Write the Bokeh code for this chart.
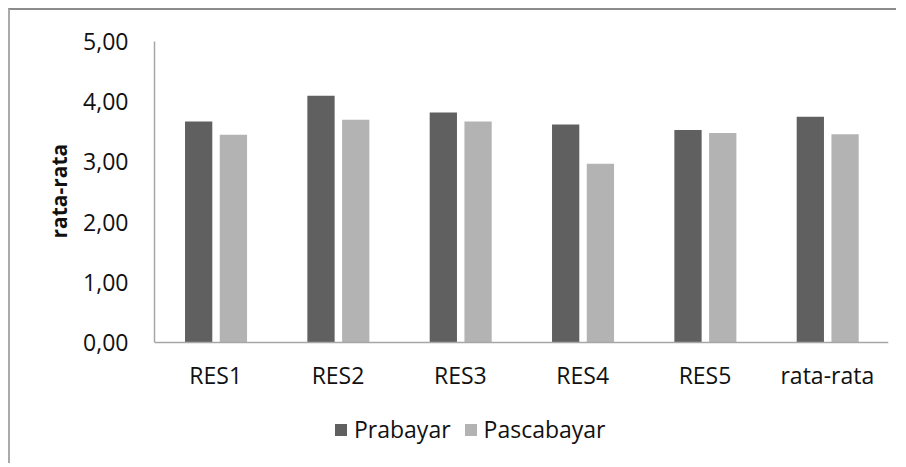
from bokeh.plotting import figure
from bokeh.models import (FactorRange, Range1d, FixedTicker, CustomJSTickFormatter,
                          ColumnDataSource, Legend, LegendItem, Title)
from bokeh.transform import dodge
from bokeh.embed import file_html
from bokeh.resources import INLINE

categories = ["RES1", "RES2", "RES3", "RES4", "RES5", "rata-rata"]
prabayar = [3.67, 4.10, 3.82, 3.62, 3.53, 3.75]
pascabayar = [3.45, 3.70, 3.67, 2.97, 3.48, 3.46]
series_names = ["Prabayar", "Pascabayar"]
y_ticks = [0, 1, 2, 3, 4, 5]
y_title = "rata-rata"

FONT = "Open Sans"
DARK = "#606060"
LIGHT = "#b3b3b3"
AXIS = "#a6a6a6"

src = ColumnDataSource(dict(cat=categories, pra=prabayar, pasca=pascabayar))

p = figure(width=888, height=455, x_range=FactorRange(*categories),
           y_range=Range1d(-1.877, 5), output_backend="svg", toolbar_location=None,
           min_border_left=144, min_border_right=10, min_border_top=31,
           min_border_bottom=10)
p.styles = {"margin-left": "8px", "margin-top": "8px",
            "border-left": "2px solid #aaaaaa", "border-top": "2px solid #8c8c8c"}
p.outline_line_color = None
p.xgrid.grid_line_color = None
p.ygrid.grid_line_color = None
p.background_fill_color = "white"
p.border_fill_color = "white"

r1 = p.vbar(x=dodge("cat", -0.139, range=p.x_range), top="pra", width=0.223,
            source=src, fill_color=DARK, line_color=None)
r2 = p.vbar(x=dodge("cat", 0.145, range=p.x_range), top="pasca", width=0.223,
            source=src, fill_color=LIGHT, line_color=None)

for ax in (p.xaxis[0], p.yaxis[0]):
    ax.axis_line_color = AXIS
    ax.axis_line_width = 1.5
    ax.major_tick_line_color = None
    ax.minor_tick_line_color = None
    ax.major_label_text_font = FONT
    ax.major_label_text_font_size = "23px"
    ax.major_label_text_color = "#111111"

p.xaxis.fixed_location = 0
p.yaxis.bounds = (0, 5)
p.yaxis.ticker = FixedTicker(ticks=y_ticks)
p.yaxis.formatter = CustomJSTickFormatter(code="return tick.toFixed(2).replace('.', ',');")
p.yaxis.major_label_standoff = 20
p.xaxis.major_label_standoff = 10

ytitle = Title(text=y_title, align="left", offset=217, standoff=14,
               vertical_align="middle",
               text_font=FONT, text_font_style="bold", text_font_size="21px",
               text_color="#111111")
p.add_layout(ytitle, "left")

legend = Legend(items=[LegendItem(label=series_names[0], renderers=[r1]),
                       LegendItem(label=series_names[1], renderers=[r2])],
                orientation="horizontal", location=(179, 10),
                glyph_width=15, glyph_height=15, label_standoff=6, spacing=12,
                padding=0, margin=0, border_line_color=None,
                background_fill_alpha=0,
                label_text_font=FONT, label_text_font_size="23px",
                label_text_color="#111111")
p.add_layout(legend, "center")

open("out.html", "w").write(file_html(p, INLINE))
